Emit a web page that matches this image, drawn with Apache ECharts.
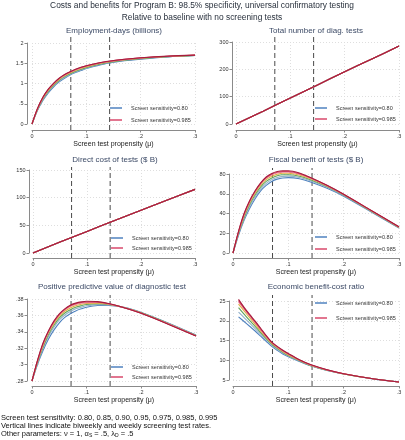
<!DOCTYPE html>
<html><head><meta charset="utf-8">
<script src="https://cdn.jsdelivr.net/npm/echarts@6/dist/echarts.min.js"></script>
<style>html,body{margin:0;padding:0;background:#fff}#c{width:405px;height:440px}</style>
</head><body><div id="c"></div>
<script>
// ---------- DATA ----------
const sensLabels = ['0.80','0.85','0.90','0.95','0.975','0.985','0.995'];
const legendShown = ['0.80','0.985'];
const xMu = [0, .01, .02, .03, .04, .05, .06, .07, .08, .09, .1, .12, .14, .17, .2, .25, .3];
const xLin = [0, .05, .1, .15, .2, .25, .3];
const xRatio = [.01, .02, .03, .04, .05, .06, .07, .08, .09, .1, .12, .14, .17, .2, .25, .3];
const vlines = [1/14, 1/7]; // biweekly & weekly screening rates

// Employment-days (billions)
const emp_080  = [0, .33, .58, .77, .92, 1.04, 1.13, 1.21, 1.27, 1.32, 1.37, 1.44, 1.50, 1.56, 1.60, 1.655, 1.69];
const emp_085  = [0, .34, .60, .79, .94, 1.06, 1.15, 1.225, 1.285, 1.335, 1.38, 1.455, 1.51, 1.57, 1.61, 1.66, 1.692];
const emp_090  = [0, .35, .615, .81, .96, 1.08, 1.17, 1.24, 1.30, 1.35, 1.395, 1.465, 1.52, 1.575, 1.615, 1.663, 1.695];
const emp_095  = [0, .365, .635, .83, .98, 1.10, 1.19, 1.26, 1.32, 1.37, 1.41, 1.48, 1.53, 1.585, 1.625, 1.668, 1.697];
const emp_0975 = [0, .37, .645, .845, .995, 1.115, 1.205, 1.275, 1.335, 1.385, 1.425, 1.49, 1.54, 1.59, 1.63, 1.671, 1.699];
const emp_0985 = [0, .375, .655, .855, 1.005, 1.125, 1.215, 1.285, 1.345, 1.395, 1.435, 1.497, 1.545, 1.595, 1.633, 1.673, 1.70];
const emp_0995 = [0, .38, .66, .86, 1.01, 1.13, 1.22, 1.29, 1.35, 1.40, 1.44, 1.50, 1.55, 1.60, 1.635, 1.675, 1.70];

// Total number of diag. tests (identical for all sensitivities)
const tests_all = [0, 47, 95, 143, 191, 238, 285];
// Direct cost of tests ($ B) (identical for all sensitivities)
const cost_all = [0, 19.8, 39, 58.2, 77.3, 96.3, 115];

// Fiscal benefit of tests ($ B)
const fis_080  = [0, 18, 33, 45, 55, 63, 68.5, 72.5, 74.8, 76, 76.3, 75.2, 72, 65.5, 57.5, 41.5, 25.2];
const fis_085  = [0, 19, 34.5, 47, 57, 65, 70.5, 74.3, 76.5, 77.6, 77.8, 76.5, 73.2, 66.5, 58.2, 42, 25.5];
const fis_090  = [0, 19.8, 36, 49, 59, 67, 72.5, 76, 78.2, 79.2, 79.3, 77.8, 74.2, 67.3, 58.7, 42.3, 25.8];
const fis_095  = [0, 20.6, 37.5, 50.5, 60.8, 68.8, 74.3, 77.8, 79.8, 80.7, 80.7, 79.0, 75.2, 67.9, 59.1, 42.6, 26.0];
const fis_0975 = [0, 21.2, 38.5, 51.7, 62, 70, 75.5, 79, 81, 81.8, 81.8, 79.8, 75.8, 68.2, 59.3, 42.8, 26.2];
const fis_0985 = [0, 21.6, 39.2, 52.4, 62.6, 70.6, 76.3, 79.8, 81.8, 82.6, 82.6, 80.4, 76.2, 68.4, 59.4, 42.9, 26.3];
const fis_0995 = [0, 22, 40, 53, 63, 71, 77, 80.5, 82.5, 83.3, 83.3, 81, 76.5, 68.5, 59.5, 43, 26.5];

// Positive predictive value of diagnostic test
const ppv_080  = [.280, .300, .317, .331, .342, .351, .3575, .362, .3655, .368, .3700, .3720, .3722, .3695, .3635, .3505, .3360];
const ppv_085  = [.280, .301, .3195, .334, .3455, .3545, .3605, .3648, .368, .370, .3717, .3732, .3728, .3695, .3633, .3502, .3357];
const ppv_090  = [.280, .3025, .321, .3365, .348, .357, .363, .367, .370, .3718, .3732, .3742, .3733, .3694, .3631, .3499, .3354];
const ppv_095  = [.280, .3035, .323, .3385, .350, .359, .365, .369, .3718, .3735, .3745, .375, .3738, .3693, .3629, .3496, .3351];
const ppv_0975 = [.280, .304, .324, .3395, .3515, .3605, .3665, .3708, .3733, .3748, .3756, .3757, .3741, .3692, .3627, .3494, .3350];
const ppv_0985 = [.280, .3045, .325, .3403, .3523, .3613, .3673, .3717, .3742, .3757, .3764, .3762, .3743, .3691, .3626, .3492, .3349];
const ppv_0995 = [.280, .305, .326, .341, .353, .362, .368, .3725, .375, .3765, .3772, .3768, .3745, .369, .3625, .349, .3348];

// Economic benefit-cost ratio
const bcr_080  = [21.0, 19.8, 18.6, 17.4, 16.1, 14.8, 13.5, 12.5, 11.6, 10.9, 9.7, 8.6, 7.4, 6.5, 5.35, 4.5];
const bcr_085  = [22.2, 20.8, 19.4, 18.0, 16.6, 15.2, 13.8, 12.75, 11.8, 11.05, 9.8, 8.65, 7.45, 6.52, 5.37, 4.5];
const bcr_090  = [23.3, 21.7, 20.1, 18.6, 17.0, 15.5, 14.1, 13.0, 12.0, 11.2, 9.9, 8.7, 7.48, 6.54, 5.38, 4.5];
const bcr_095  = [24.2, 22.5, 20.8, 19.1, 17.4, 15.8, 14.3, 13.2, 12.2, 11.35, 9.98, 8.76, 7.52, 6.56, 5.39, 4.5];
const bcr_0975 = [24.8, 23.0, 21.2, 19.5, 17.7, 16.0, 14.45, 13.35, 12.35, 11.5, 10.04, 8.82, 7.55, 6.58, 5.4, 4.5];
const bcr_0985 = [25.1, 23.2, 21.4, 19.7, 17.9, 16.1, 14.5, 13.4, 12.45, 11.6, 10.07, 8.86, 7.57, 6.59, 5.4, 4.5];
const bcr_0995 = [25.4, 23.4, 21.6, 19.9, 18.1, 16.25, 14.6, 13.5, 12.55, 11.7, 10.1, 8.9, 7.6, 6.6, 5.4, 4.5];

// ---------- LAYOUT / STYLE ----------
const colors = ['#4f82bf', '#93b1c9', '#62a45c', '#e2b440', '#ec8c9e', '#d8496b', '#a61d3d'];
const FONT = 'Liberation Sans';
const xName = 'Screen test propensity (\u03bc)';

const panels = [
  {title:'Employment-days (billions)', tx:114, ty:31, grid:{left:32, top:43, width:163, height:81},
   yMin:0, yMax:2, yInt:.5, x:xMu, data:[emp_080,emp_085,emp_090,emp_095,emp_0975,emp_0985,emp_0995],
   lg:{left:110, top:105, gap:6}, padTop:8, padBot:6, yOff:5, xOff:6},
  {title:'Total number of diag. tests', tx:316, ty:31, grid:{left:236, top:42, width:163, height:82},
   yMin:0, yMax:300, yInt:100, x:xLin, data:[tests_all,tests_all,tests_all,tests_all,tests_all,tests_all,tests_all],
   lg:{left:315, top:105, gap:5}, padTop:5, padBot:6, yOff:4, xOff:6},
  {title:'Direct cost of tests ($ B)', tx:115, ty:160, grid:{left:33, top:170, width:162, height:83},
   yMin:0, yMax:150, yInt:50, x:xLin, data:[cost_all,cost_all,cost_all,cost_all,cost_all,cost_all,cost_all],
   lg:{left:111, top:235, gap:4}, padTop:3, padBot:5, yOff:4, xOff:5},
  {title:'Fiscal benefit of tests ($ B)', tx:316, ty:160, grid:{left:233, top:174, width:166, height:79},
   yMin:0, yMax:80, yInt:20, x:xMu, data:[fis_080,fis_085,fis_090,fis_095,fis_0975,fis_0985,fis_0995],
   lg:{left:315, top:234, gap:6}, padTop:6, padBot:5, yOff:4, xOff:5},
  {title:'Positive predictive value of diagnostic test', tx:112, ty:287, grid:{left:32, top:299, width:164, height:82},
   yMin:.28, yMax:.38, yInt:.02, x:xMu, data:[ppv_080,ppv_085,ppv_090,ppv_095,ppv_0975,ppv_0985,ppv_0995],
   lg:{left:111, top:364, gap:4}, padTop:4, padBot:5, yOff:5, xOff:5},
  {title:'Economic benefit-cost ratio', tx:316, ty:287, grid:{left:233, top:301, width:166, height:79},
   yMin:5, yMax:25, yInt:5, x:xRatio, data:[bcr_080,bcr_085,bcr_090,bcr_095,bcr_0975,bcr_0985,bcr_0995],
   lg:{left:315, top:300, gap:9}, padTop:6, padBot:6, yOff:4, xOff:6}
];

const fmt = v => { const s = String(+(+v).toFixed(4)); return s.replace(/^0\./, '.').replace(/^-0\./, '-.'); };
const dotted = {show:true, lineStyle:{color:'#dedede', type:[1,2], width:1}};

const grids = [], xAxes = [], yAxes = [], series = [], legends = [], graphics = [];

panels.forEach((p, k) => {
  grids.push(Object.assign({containLabel:false}, p.grid));
  xAxes.push({type:'value', gridIndex:k, min:0, max:.3, interval:.1, offset:p.xOff,
    axisLine:{show:true, onZero:false, lineStyle:{color:'#8a8a8a', width:1}},
    axisTick:{show:true, length:2.5, lineStyle:{color:'#8a8a8a'}},
    axisLabel:{formatter:fmt, fontSize:5.5, color:'#333', margin:3, fontFamily:FONT},
    splitLine:dotted,
    name:xName, nameLocation:'middle', nameGap:11,
    nameTextStyle:{fontSize:7, color:'#222', fontFamily:FONT}});
  yAxes.push({type:'value', gridIndex:k, min:p.yMin, max:p.yMax, interval:p.yInt, offset:p.yOff,
    axisLine:{show:true, onZero:false, lineStyle:{color:'#8a8a8a', width:1}},
    axisTick:{show:true, length:2.5, lineStyle:{color:'#8a8a8a'}},
    axisLabel:{formatter:fmt, fontSize:5.5, color:'#333', margin:3.5, fontFamily:FONT},
    splitLine:dotted});
  // vertical reference lines (biweekly & weekly rates)
  const h = p.grid.height, rng = p.yMax - p.yMin;
  const yHi = p.yMax + p.padTop / h * rng, yLo = p.yMin - p.padBot / h * rng;
  vlines.forEach(v => {
    series.push({type:'line', xAxisIndex:k, yAxisIndex:k, data:[[v, yLo],[v, yHi]],
      showSymbol:false, clip:false, silent:true, z:2,
      lineStyle:{color:'#4a4a4a', width:1, type:[5,3]}});
  });
  p.data.forEach((vals, i) => {
    series.push({type:'line', name:'Screen sensitivity=' + sensLabels[i], xAxisIndex:k, yAxisIndex:k,
      data:p.x.map((x, j) => [x, vals[j]]), showSymbol:false, smooth:.3, clip:false, z:3 + i,
      color:colors[i], lineStyle:{color:colors[i], width:1.1}});
  });
  legends.push({data:legendShown.map(s => 'Screen sensitivity=' + s), left:p.lg.left, top:p.lg.top,
    orient:'vertical', itemGap:p.lg.gap, itemWidth:12, itemHeight:1.5, icon:'rect', selectedMode:false,
    padding:0, textStyle:{fontSize:5.5, color:'#333', fontFamily:FONT, padding:[0,0,0,4]}});
  graphics.push({type:'text', x:p.tx, y:p.ty, style:{text:p.title, align:'center', verticalAlign:'middle',
    textAlign:'center', textVerticalAlign:'middle', fontSize:8, fontFamily:FONT, fill:'#3c4a66'}});
});

graphics.push({type:'text', x:202, y:6, style:{text:'Costs and benefits for Program B: 98.5% specificity, universal confirmatory testing',
  align:'center', verticalAlign:'middle', textAlign:'center', textVerticalAlign:'middle', fontSize:8.4, fontFamily:FONT, fill:'#28303c'}});
graphics.push({type:'text', x:202, y:18, style:{text:'Relative to baseline with no screening tests',
  align:'center', verticalAlign:'middle', textAlign:'center', textVerticalAlign:'middle', fontSize:8.4, fontFamily:FONT, fill:'#28303c'}});
graphics.push({type:'text', x:1, y:418, style:{text:'Screen test sensitivity: 0.80, 0.85, 0.90, 0.95, 0.975, 0.985, 0.995',
  align:'left', verticalAlign:'middle', textAlign:'left', textVerticalAlign:'middle', fontSize:7.5, fontFamily:FONT, fill:'#111'}});
graphics.push({type:'text', x:1, y:426, style:{text:'Vertical lines indicate biweekly and weekly screening test rates.',
  align:'left', verticalAlign:'middle', textAlign:'left', textVerticalAlign:'middle', fontSize:7.5, fontFamily:FONT, fill:'#111'}});
graphics.push({type:'text', x:1, y:433.5, style:{
  text:'{n|Other parameters: \u03bd = 1, \u03b1}{s|S}{n| = .5, \u03bb}{s|D}{n| = .5}',
  align:'left', verticalAlign:'middle', textAlign:'left', textVerticalAlign:'middle',
  rich:{n:{fontSize:7.5, fontFamily:FONT, fill:'#111', color:'#111', lineHeight:9},
        s:{fontSize:5, fontFamily:FONT, fill:'#111', color:'#111', lineHeight:9, verticalAlign:'bottom'}}}});

const chart = echarts.init(document.getElementById('c'), null, {renderer:'canvas'});
chart.setOption({animation:false, backgroundColor:'#fff', grid:grids, xAxis:xAxes, yAxis:yAxes,
  series:series, legend:legends, graphic:{elements:graphics}});
</script></body></html>
